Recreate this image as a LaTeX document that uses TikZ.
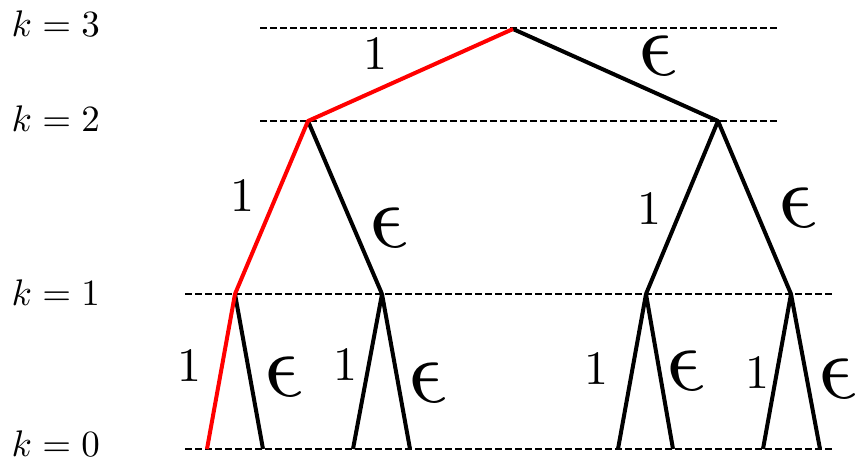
\documentclass[tikz,border=0pt]{standalone}
\begin{document}
\begin{tikzpicture}[x=1pt,y=-1pt,
  lvl/.style={draw, line width=2.7pt, dash pattern=on 6.5pt off 3.5pt},
  edge/.style={line width=4pt, black, line join=round},
  hot/.style={line width=4pt, red, line join=round},
  klab/.style={anchor=base west, inner sep=0pt, scale=3.7, transform shape},
  one/.style={inner sep=0pt, scale=4.8, transform shape},
  eps/.style={inner sep=0pt, xslant=-0.25, scale=9.2, transform shape}]
\useasboundingbox (0,0) rectangle (857,459);
% level lines
\coordinate (d3a) at (260,28);  \coordinate (d3b) at (778,28);
\coordinate (d2a) at (260,121); \coordinate (d2b) at (778,121);
\coordinate (d1a) at (185,294); \coordinate (d1b) at (835,294);
\coordinate (d0a) at (185,449); \coordinate (d0b) at (835,449);
\draw[lvl] (d3a) -- (d3b);
\draw[lvl] (d2a) -- (d2b);
\draw[lvl] (d1a) -- (d1b);
\draw[lvl] (d0a) -- (d0b);
% level labels
\node[klab] (k3) at (11,36) {$k=3$};
\node[klab] (k2) at (11,131) {$k=2$};
\node[klab] (k1) at (11,305) {$k=1$};
\node[klab] (k0) at (11,456) {$k=0$};
% tree nodes
\coordinate (r) at (513,29);
\coordinate (n2a) at (308,121); \coordinate (n2b) at (718,121);
\coordinate (n1a) at (235,294); \coordinate (n1b) at (382,294);
\coordinate (n1c) at (646,294); \coordinate (n1d) at (791,294);
\coordinate (l1) at (207,449); \coordinate (l2) at (263,449);
\coordinate (l3) at (353,449); \coordinate (l4) at (410,449);
\coordinate (l5) at (618,449); \coordinate (l6) at (673,449);
\coordinate (l7) at (763,449); \coordinate (l8) at (820,449);
% black edges
\draw[edge] (r) -- (n2b);
\draw[edge] (n2a) -- (n1b);
\draw[edge] (n1c) -- (n2b) -- (n1d);
\draw[edge] (n1a) -- (l2);
\draw[edge] (l3) -- (n1b) -- (l4);
\draw[edge] (l5) -- (n1c) -- (l6);
\draw[edge] (l7) -- (n1d) -- (l8);
% red path
\draw[hot] (r) -- (n2a) -- (n1a) -- (l1);
% edge labels
\node[one] (o1) at (375,54) {1};
\node[eps] (e1) at (657,56) {$\epsilon$};
\node[one] (o2) at (242,196) {1};
\node[eps] (e2) at (388,228) {$\epsilon$};
\node[one] (o3) at (649,209) {1};
\node[eps] (e3) at (797,208) {$\epsilon$};
\node[one] (o4) at (189,366) {1};
\node[eps] (e4) at (283,377) {$\epsilon$};
\node[one] (o5) at (345,365) {1};
\node[eps] (e5) at (427,383) {$\epsilon$};
\node[one] (o6) at (596,369) {1};
\node[eps] (e6) at (685,371) {$\epsilon$};
\node[one] (o7) at (757,373) {1};
\node[eps] (e7) at (837,379) {$\epsilon$};
\end{tikzpicture}
\end{document}
